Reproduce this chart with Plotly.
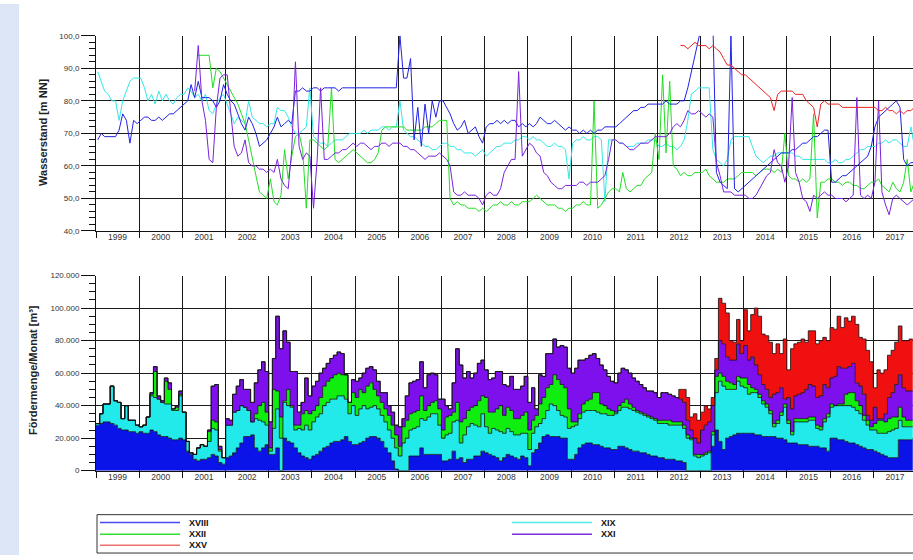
import pandas as pd
import plotly.graph_objects as go

# ---------------- time axis ----------------
months = pd.date_range("1999-01-01", "2017-12-01", freq="MS")   # monthly steps
mid_months = months + pd.Timedelta(days=14)                       # water level points

N = None
# ---------------- Wasserstand [m NN] (monthly readings) ----------------
ws_xviii = [
    68, 70, 69, 69, 69, 69, 71, 76, 74, 67, 74, 73,   # 1999
    74, 75, 75, 74, 74, 75, 74, 75, 76, 76, 77, 78,   # 2000
    79, 80, 85, 81, 86, 81, 81, 81, 80, 78, 80, 85,   # 2001
    82, 80, 79, 76, 73, 71, 75, 73, 70, 66, 67, 68,   # 2002
    70, 72, 75, 72, 73, 74, 73, 83, 83, 84, 83, 83,   # 2003
    84, 84, 83, 84, 84, 84, 84, 83, 84, 84, 84, 84,   # 2004
    84, 84, 84, 84, 84, 84, 84, 84, 84, 84, 84, 84,   # 2005
    100, 87, 87, 93, 68, 78, 66, 79, 70, 80, 75, 80,  # 2006
    80, 78, 76, 73, 71, 72, 74, 70, 71, 72, 69, 67,   # 2007
    72, 73, 73, 74, 73, 74, 73, 74, 74, 72, 73, 72,   # 2008
    73, 72, 73, 75, 74, 73, 73, 74, 73, 72, 71, 72,   # 2009
    71, 71, 70, 71, 70, 71, 70, 71, 71, 72, 72, 72,   # 2010
    72, 73, 74, 75, 76, 77, 77, 78, 78, 79, 79, 79,   # 2011
    79, 79, 80, 79, 79, 79, 80, 80, 84, 89, 95, 100,  # 2012
    104, 104, 104, 104, 58, 55, 54, 53, 100, 53, 52, 53,  # 2013
    54, 55, 56, 57, 58, 59, 60, 61, 62, 63, 64, 64,   # 2014
    64, 65, 65, 66, 67, 67, 68, 69, 69, 70, 71, 71,   # 2015
    55, 55, 56, 57, 57, 58, 59, 60, 61, 62, 63, 66,   # 2016
    72, 75, 76, 77, 78, 79, 80, 78, 62, 60, 61, 61,   # 2017
]
ws_xix = [
    89, 86, 83, 82, 80, 80, 74, 80, 83, 86, 87, 87,
    87, 84, 80, 82, 79, 83, 80, 82, 80, 79, 81, 82,
    82, 84, 83, 81, 82, 80, 82, 77, 76, 79, 81, 82,
    79, 76, 73, 75, 74, 73, 80, 75, 74, 73, 73, 72,
    73, 73, 78, 77, 77, 75, 72, 70, 70, 71, 72, 84,
    69, 68, 67, 67, 66, 67, 68, 68, 68, 69, 70, 70,
    70, 70, 71, 70, 71, 71, 71, 72, 72, 71, 72, 72,
    80, 71, 70, 69, 69, 68, 67, 66, 66, 65, 65, 66,
    67, 67, 66, 66, 65, 65, 64, 64, 64, 63, 64, 65,
    63, 64, 65, 66, 66, 67, 67, 67, 68, 68, 69, 69,
    68, 69, 68, 68, 67, 66, 66, 67, 66, 66, 65, 56,
    67, 68, 68, 69, 68, 68, 69, 69, 68, 49, 68, 68,
    68, 67, 67, 66, 66, 66, 67, 67, 67, 68, 68, 68,
    66, 66, 67, 66, 66, 65, 66, 68, 74, 82, 83, 84,
    84, 84, 84, 65, 62, 61, 60, 62, 68, 69, 69, 69,
    69, 69, 66, 63, 62, 61, 62, 63, 63, 64, 64, 64,
    64, 64, 63, 63, 62, 62, 62, 62, 62, 62, 62, 61,
    61, 62, 61, 61, 62, 62, 63, 64, 65, 65, 66, 66,
    66, 67, 67, 68, 67, 68, 68, 67, 66, 66, 72, 66,
]
ws_xxii = [
    N, N, N, N, N, N, N, N, N, N, N, N,
    N, N, N, N, N, N, N, N, N, N, N, N,
    N, N, N, N, 94, 94, 94, 94, 84, 90, 89, 87,
    85, 83, 81, 79, 76, 73, 68, 63, 57, 52, 51, 50,
    56, 49, 48, 51, 65, 56, 63, 69, 70, 65, 47, 68,
    68, 67, 66, 65, 66, 84, 62, 61, 62, 63, 64, 65,
    64, 63, 62, 61, 61, 62, 64, 71, 72, 72, 72, 72,
    72, 72, 71, 71, 71, 71, 71, 72, 72, 72, 73, 74,
    74, 74, 50, 48, 49, 48, 48, 47, 47, 47, 46, 47,
    46, 47, 48, 48, 49, 48, 48, 49, 48, 48, 49, 49,
    49, 50, 51, 50, 49, 48, 48, 48, 47, 47, 46, 47,
    47, 48, 48, 49, 48, 48, 80, 47, 48, 50, 52, 53,
    53, 52, 58, 53, 52, 53, 54, 54, 56, 57, 58, 70,
    62, 88, 64, 86, 60, 59, 57, 58, 57, 57, 58, 58,
    58, 59, 57, 56, 55, 55, 55, 56, 56, 56, 57, 58,
    58, 58, 58, 57, 58, 59, 59, 59, 58, 59, 58, 70,
    57, 56, 56, 55, 56, 55, 56, 76, 44, 55, 55, 56,
    56, 55, 55, 54, 55, 55, 54, 54, 53, 53, 54, 55,
    55, 56, 54, 53, 52, 55, 53, 52, 55, 62, 52, 55,
]
ws_xxi = [
    N, N, N, N, N, N, N, N, N, N, N, N,
    N, N, N, N, N, N, N, N, N, N, N, N,
    N, N, N, 83, 97, 80, 74, 62, 61, 78, 87, 88,
    88, 76, 66, 63, 64, 68, 61, 60, 60, 59, 59, 58,
    59, 58, 62, 56, 54, 53, 65, 92, 66, 62, 64, 63,
    47, 62, 84, 62, 62, 63, 64, 64, 65, 65, 66, 67,
    66, 67, 67, 66, 65, 66, 66, 67, 67, 66, 67, 67,
    67, 66, 66, 65, 65, 64, 63, 62, 63, 63, 63, 64,
    63, 62, 60, 52, 51, 51, 52, 51, 51, 51, 50, 48,
    51, 52, 51, 51, 53, 58, 60, 62, 62, 89, 63, 65,
    67, 66, 64, 63, 58, 57, 55, 54, 53, 53, 54, 54,
    54, 54, 55, 55, 54, 55, 55, 55, 56, 57, 62, 68,
    68, 67, 67, 66, 65, 65, 66, 67, 67, 67, 68, 69,
    69, 69, 69, 70, 72, 73, 72, 74, 77, 76, 76, 77,
    76, 75, 76, 75, 61, 57, 52, 52, 52, 51, 51, 51,
    51, 50, 50, 51, 53, 55, 57, 58, 65, 61, 60, 55,
    60, 81, 58, 55, 50, 49, 46, 51, 50, 51, 52, 51,
    51, 50, 50, 50, 49, 50, 51, 81, 51, 50, 51, 50,
    55, 80, 52, 48, 45, 50, 51, 50, 49, 48, 49, 50,
]
ws_xxv = [N] * (13 * 12) + [
    N, N, N, N, N, N, 97, 97, 96, 97, 98, 97,         # 2012
    97, 97, 96, 97, 96, 95, 93, 91, 91, 90, 89, 88,   # 2013
    88, 87, 86, 85, 84, 83, 82, 81, 77, 82, 83, 83,   # 2014
    83, 83, 82, 82, 82, 80, 79, 78, 72, 79, 80, 79,   # 2015
    79, 79, 79, 78, 78, 78, 78, 78, 78, 78, 78, 78,   # 2016
    78, 77, 77, 78, 77, 77, 76, 77, 76, 77, 77, 78,   # 2017
]

# ---------------- Fördermenge/Monat [1000 m³] ----------------
fm_xviii = [
    28, 29, 30, 30, 29, 28, 26, 25, 25, 24, 24, 23,
    24, 23, 23, 25, 24, 22, 21, 21, 20, 19, 19, 20,
    19, 12, 10, 7, 6, 7, 7, 8, 10, 9, 5, 4,
    8, 9, 11, 14, 17, 21, 21, 22, 14, 12, 14, 16,
    10, 10, 14, 0, 20, 18, 17, 14, 11, 9, 8, 7,
    9, 10, 12, 14, 15, 17, 18, 18, 19, 21, 18, 16,
    16, 17, 18, 20, 21, 21, 20, 18, 14, 11, 6, 1,
    0, 0, 0, 9, 9, 9, 14, 10, 10, 10, 10, 10,
    6, 6, 7, 12, 7, 8, 5, 7, 7, 9, 9, 12,
    11, 10, 9, 8, 6, 8, 10, 9, 8, 7, 9, 8,
    3, 11, 13, 17, 21, 22, 21, 21, 21, 20, 20, 7,
    7, 10, 14, 16, 17, 17, 16, 16, 15, 14, 14, 13,
    13, 15, 15, 14, 13, 12, 12, 11, 11, 10, 9, 9,
    8, 8, 7, 7, 7, 6, 6, 5, 0, 0, 0, 0,
    0, 0, 0, 15, 25, 18, 13, 20, 21, 22, 23, 23,
    23, 23, 23, 22, 22, 21, 21, 21, 21, 20, 20, 19,
    17, 17, 17, 16, 16, 16, 15, 15, 15, 14, 14, 12,
    20, 20, 19, 19, 18, 17, 17, 16, 15, 14, 13, 13,
    12, 11, 10, 9, 8, 8, 8, 19, 19, 19, 19, 19,
]
fm_xix = [
    1, 6, 11, 11, 23, 15, 16, 7, 15, 7, 7, 5,
    3, 5, 10, 21, 21, 22, 21, 20, 21, 18, 18, 26,
    17, 6, 1, 3, 8, 9, 8, 10, 16, 16, 7, 4,
    20, 19, 25, 23, 23, 18, 16, 8, 18, 19, 16, 12,
    2, 16, 24, 20, 22, 22, 22, 11, 15, 16, 20, 18,
    21, 23, 23, 26, 27, 27, 26, 28, 27, 23, 17, 24,
    18, 21, 22, 18, 18, 19, 18, 16, 16, 14, 14, 13,
    9, 17, 20, 16, 17, 18, 18, 21, 23, 25, 25, 18,
    14, 16, 16, 18, 24, 9, 17, 20, 22, 19, 18, 23,
    16, 13, 17, 17, 18, 15, 16, 15, 14, 15, 14, 15,
    10, 12, 14, 12, 11, 15, 20, 19, 16, 14, 13, 19,
    20, 18, 18, 20, 20, 20, 21, 20, 20, 21, 20, 21,
    22, 22, 24, 25, 25, 25, 24, 24, 23, 23, 23, 22,
    21, 21, 22, 21, 21, 22, 22, 21, 20, 19, 9, 8,
    9, 10, 11, 7, 23, 37, 39, 30, 29, 28, 32, 29,
    28, 24, 25, 26, 23, 20, 18, 14, 6, 9, 14, 20,
    12, 5, 13, 14, 14, 14, 16, 16, 11, 11, 16, 21,
    19, 20, 21, 21, 22, 23, 22, 21, 20, 17, 15, 12,
    13, 12, 13, 14, 16, 17, 18, 12, 8, 8, 8, 8,
]
fm_xxii = [
    0, 0, 0, 0, 0, 0, 0, 0, 0, 0, 0, 0,
    0, 0, 0, 1, 16, 0, 0, 14, 9, 1, 2, 1,
    0, 0, 0, 0, 0, 0, 0, 6, 5, 5, 1, 0,
    0, 0, 0, 0, 0, 0, 0, 0, 3, 9, 12, 8,
    2, 24, 11, 13, 1, 10, 1, 3, 2, 10, 9, 10,
    7, 7, 10, 12, 13, 13, 15, 14, 13, 15, 7, 8,
    11, 12, 8, 14, 15, 10, 8, 8, 8, 9, 8, 8,
    6, 10, 11, 10, 10, 10, 14, 6, 7, 7, 8, 10,
    5, 11, 11, 6, 11, 13, 10, 10, 10, 12, 16, 11,
    18, 13, 10, 13, 16, 11, 13, 13, 10, 10, 11, 13,
    12, 8, 7, 12, 13, 14, 12, 19, 19, 19, 18, 12,
    3, 2, 3, 5, 6, 7, 11, 12, 6, 5, 4, 3,
    1, 3, 3, 5, 3, 2, 1, 1, 1, 1, 1, 1,
    2, 2, 2, 3, 2, 2, 2, 2, 2, 1, 1, 2,
    1, 1, 1, 2, 10, 5, 6, 5, 4, 3, 3, 5,
    6, 6, 3, 2, 2, 2, 2, 2, 2, 2, 2, 2,
    2, 2, 2, 2, 2, 2, 2, 2, 2, 2, 2, 2,
    2, 0, 1, 1, 7, 8, 9, 6, 5, 3, 3, 2,
    4, 8, 8, 7, 8, 8, 7, 8, 6, 4, 4, 4,
]
fm_xxi = [
    0, 0, 0, 0, 0, 0, 0, 0, 0, 0, 0, 0,
    0, 0, 0, 1, 3, 2, 1, 2, 4, 0, 1, 2,
    0, 0, 0, 0, 0, 0, 0, 1, 21, 23, 2, 0,
    4, 3, 11, 15, 16, 11, 13, 12, 19, 22, 25, 25,
    16, 19, 46, 42, 43, 29, 21, 33, 8, 7, 20, 11,
    15, 15, 15, 11, 11, 12, 12, 13, 13, 0, 0, 8,
    10, 7, 12, 11, 10, 12, 9, 6, 10, 6, 8, 6,
    12, 5, 15, 19, 19, 19, 21, 14, 19, 18, 16, 6,
    19, 7, 4, 18, 33, 35, 25, 24, 18, 20, 23, 22,
    17, 20, 21, 23, 21, 19, 13, 21, 18, 18, 18, 22,
    17, 20, 4, 18, 13, 21, 19, 22, 20, 24, 25, 25,
    30, 33, 33, 27, 26, 27, 24, 21, 24, 22, 20, 18,
    18, 20, 21, 18, 19, 18, 18, 17, 16, 15, 16, 16,
    14, 17, 17, 16, 16, 15, 14, 14, 9, 5, 10, 7,
    15, 17, 18, 16, 4, 20, 20, 15, 14, 15, 20, 15,
    20, 15, 19, 15, 12, 10, 9, 8, 18, 17, 15, 3,
    14, 14, 14, 15, 16, 18, 20, 19, 17, 19, 21, 16,
    16, 18, 23, 22, 16, 16, 18, 11, 12, 13, 3, 4,
    10, 1, 1, 5, 13, 15, 20, 20, 18, 18, 18, 18,
]
fm_xxv = [0] * (13 * 12) + [
    0, 0, 0, 0, 0, 0, 6, 8, 14, 8, 15, 14,
    11, 12, 8, 5, 7, 26, 25, 27, 12, 11, 15, 8,
    22, 18, 26, 35, 36, 31, 33, 34, 25, 30, 21, 37,
    17, 37, 32, 32, 33, 29, 33, 34, 33, 34, 29, 29,
    31, 29, 31, 25, 31, 28, 29, 36, 30, 34, 40, 36,
    12, 30, 28, 27, 26, 26, 26, 30, 29, 31, 32, 32,
]

series_names = ["XVIII", "XIX", "XXII", "XXI", "XXV"]
ws_data = [ws_xviii, ws_xix, ws_xxii, ws_xxi, ws_xxv]
fm_data = [fm_xviii, fm_xix, fm_xxii, fm_xxi, fm_xxv]

line_colors = ["#2222e6", "#33e6e6", "#22dd22", "#7a22dd", "#ee2222"]
fill_colors = ["#0a14e8", "#22eaea", "#10ee10", "#7e10ee", "#f01010"]
legend_colors = ["#4a4af2", "#55eaea", "#33dd33", "#7a2ed8", "#f07070"]

ws_ticks = [40, 50, 60, 70, 80, 90, 100]
ws_ticktext = ["40,0", "50,0", "60,0", "70,0", "80,0", "90,0", "100,0"]
fm_ticks = [0, 20000, 40000, 60000, 80000, 100000, 120000]
fm_ticktext = ["0", "20.000", "40.000", "60.000", "80.000", "100.000", "120.000"]

W, H = 913, 560
def px(x):
    return x / W
def py(y):
    return 1 - y / H

FONT = "Liberation Sans, Arial, sans-serif"

fig = go.Figure()

# top: water levels
draw_order = [1, 2, 0, 3, 4]
for i in draw_order:
    fig.add_trace(go.Scatter(
        x=mid_months, y=ws_data[i], mode="lines", name=series_names[i],
        line=dict(color=line_colors[i], width=1), xaxis="x", yaxis="y",
        showlegend=False, hoverinfo="skip"))

# bottom: stacked monthly volumes
for i in range(5):
    fig.add_trace(go.Scatter(
        x=months, y=[v * 1000 for v in fm_data[i]], mode="lines",
        name=series_names[i], stackgroup="f",
        line=dict(shape="hv", color="#111111", width=0.8),
        fillcolor=fill_colors[i], xaxis="x2", yaxis="y2",
        showlegend=False, hoverinfo="skip"))

xr = ["1999-01-01", "2017-12-03"]
xcommon = dict(
    type="date", range=xr, tick0="1999-01-01", dtick="M12",
    ticklabelmode="period", tickformat="%Y", ticks="outside", ticklen=6,
    tickcolor="#111", showgrid=True, gridcolor="#1a1a1a", gridwidth=1,
    showline=True, linecolor="#111", linewidth=1, zeroline=False,
    tickfont=dict(family=FONT, size=8.5, color="#333"),
    ticklabelstandoff=-8,
)
ycommon = dict(
    ticks="outside", ticklen=14, tickcolor="#111", showgrid=True,
    gridcolor="#1a1a1a", gridwidth=1, showline=True, linecolor="#111",
    linewidth=1, zeroline=False, tickfont=dict(family=FONT, size=8, color="#333"),
)

fig.update_layout(
    width=W, height=H, margin=dict(l=0, r=0, t=0, b=0),
    paper_bgcolor="white", plot_bgcolor="white", showlegend=False,
    xaxis=dict(domain=[px(96), 1.0], anchor="y", **xcommon),
    yaxis=dict(domain=[py(230.7), py(32.3)], anchor="x", range=[40, 100],
               tickvals=ws_ticks, ticktext=ws_ticktext,
               minor=dict(dtick=2, ticks="outside", ticklen=6, tickcolor="#111", showgrid=False),
               **ycommon),
    xaxis2=dict(domain=[px(96), 1.0], anchor="y2", **xcommon),
    yaxis2=dict(domain=[py(474.3), py(276)], anchor="x2", range=[0, 120000],
                tickvals=fm_ticks, ticktext=fm_ticktext,
                minor=dict(dtick=5000, ticks="outside", ticklen=6, tickcolor="#111", showgrid=False),
                **ycommon),
)

shapes = [
    dict(type="rect", xref="paper", yref="paper", x0=0, x1=px(19), y0=0, y1=1,
         fillcolor="#dce6f7", line=dict(width=0), layer="below"),
    dict(type="rect", xref="paper", yref="paper", x0=px(97), x1=px(916), y0=py(558), y1=py(519),
         fillcolor="rgba(0,0,0,0)", line=dict(color="#333", width=1)),
]
annotations = [
    dict(text="<b>Wasserstand [m NN]</b>", x=px(43), y=py(130), xref="paper", yref="paper",
         textangle=-90, showarrow=False, font=dict(family=FONT, size=11, color="#222"),
         xanchor="center", yanchor="middle"),
    dict(text="<b>Fördermenge/Monat [m³]</b>", x=px(33), y=py(372), xref="paper", yref="paper",
         textangle=-90, showarrow=False, font=dict(family=FONT, size=11, color="#222"),
         xanchor="center", yanchor="middle"),
]
# legend: column-major 3 rows
leg_pos = [(100, 527), (512, 527), (100, 539), (512, 539), (100, 550)]
for i, (lx, ly) in enumerate(leg_pos):
    shapes.append(dict(type="line", xref="paper", yref="paper", x0=px(lx), x1=px(lx + 80),
                       y0=py(ly), y1=py(ly), line=dict(color=legend_colors[i], width=1.5)))
    annotations.append(dict(text="<b>" + series_names[i] + "</b>", x=px(lx + 87), y=py(ly),
                            xref="paper", yref="paper", showarrow=False, xanchor="left",
                            yanchor="middle",
                            font=dict(family="Liberation Sans Narrow, " + FONT, size=9, color="#111")))
fig.update_layout(shapes=shapes, annotations=annotations)

fig.write_html("out.html", config={"displayModeBar": False},
               post_script="document.body.style.margin='0px';document.body.style.overflow='hidden';")
